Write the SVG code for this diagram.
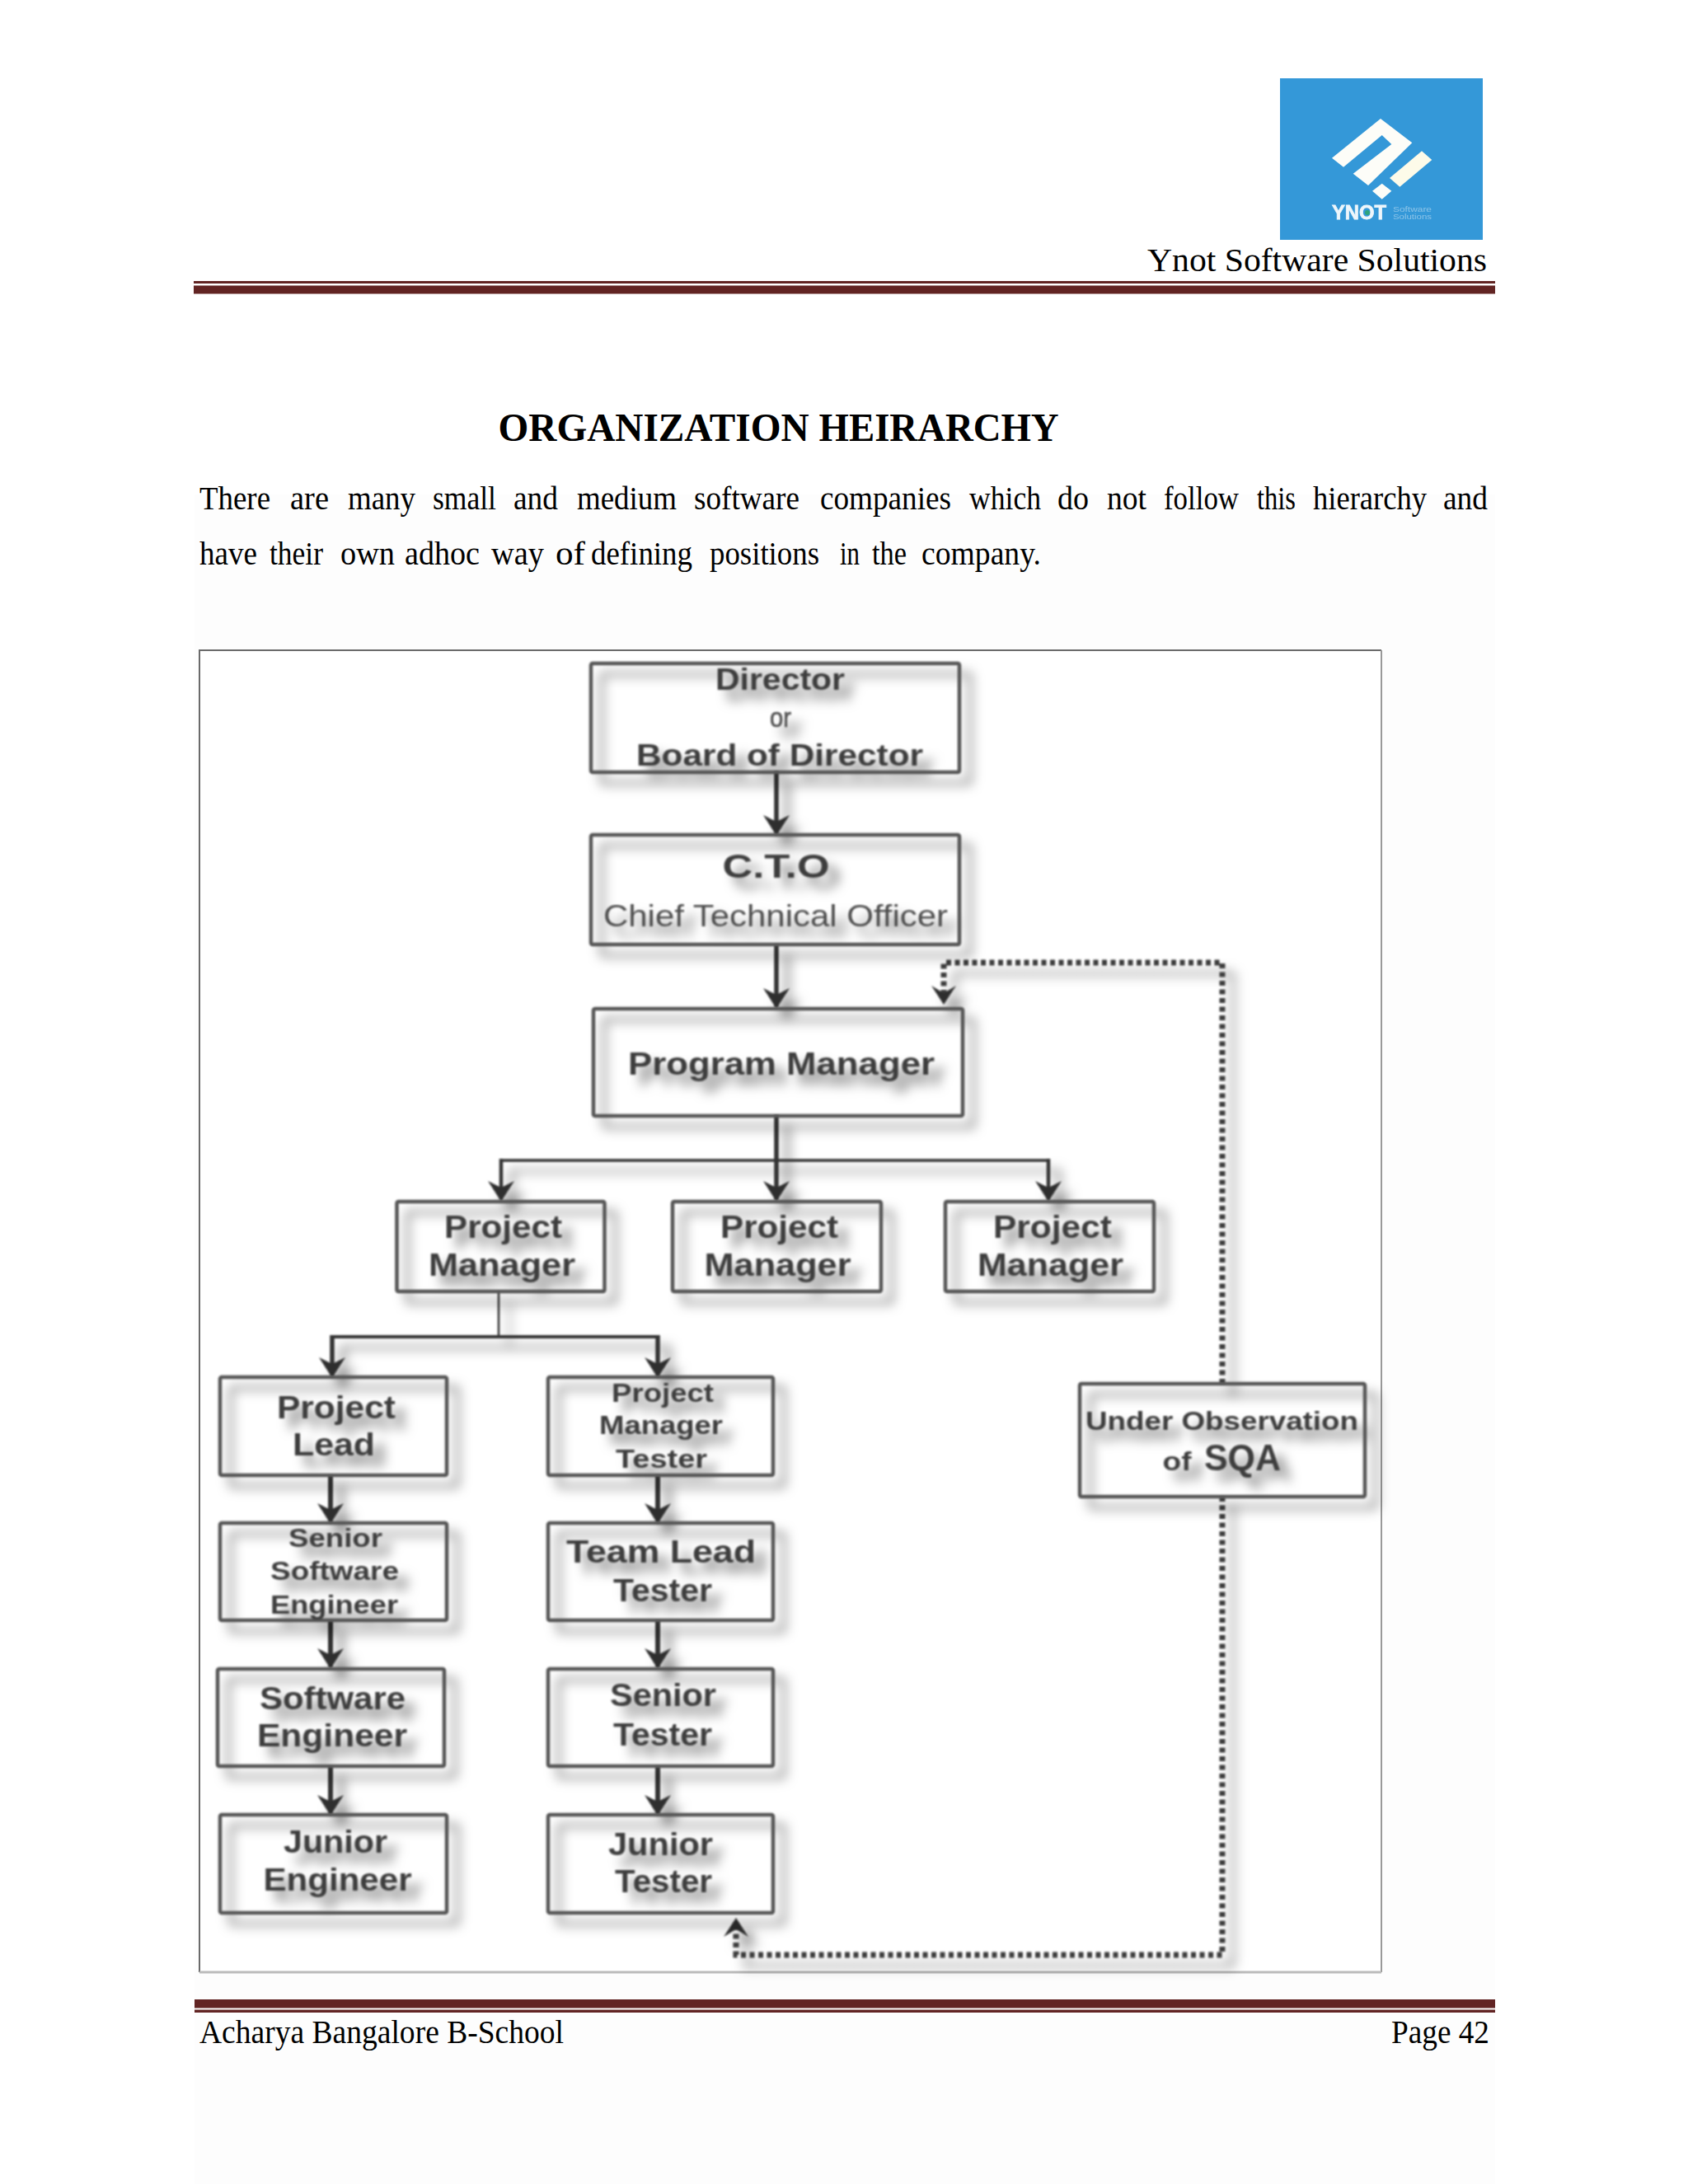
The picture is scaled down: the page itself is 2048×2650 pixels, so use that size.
<svg xmlns="http://www.w3.org/2000/svg" width="2048" height="2650" viewBox="0 0 2048 2650">
<style>
.ser{font-family:"Liberation Serif","Times New Roman",serif;fill:#000}
.t{font-family:"Liberation Sans",Arial,sans-serif;font-weight:700;fill:#3d3d3d;text-anchor:start}
.r{font-family:"Liberation Sans",Arial,sans-serif;font-weight:400;fill:#4d4d4d}
.box{fill:none;stroke:#555;stroke-width:4.5}
.n{filter:url(#sh)}
.solid{fill:none;stroke:#333;stroke-linejoin:miter}
.dot{fill:none;stroke:#3c3c3c;stroke-width:7;stroke-dasharray:6 4.5}
.rule{fill:#622423}
</style>
<defs>
<filter id="sh" filterUnits="userSpaceOnUse" x="0" y="0" width="2048" height="2650" color-interpolation-filters="sRGB">
<feGaussianBlur in="SourceGraphic" stdDeviation="1.1" result="b"/>
<feGaussianBlur in="SourceAlpha" stdDeviation="7" result="a"/>
<feOffset in="a" dx="13" dy="13" result="o"/>
<feFlood flood-color="#000" flood-opacity="0.5"/>
<feComposite in2="o" operator="in" result="s"/>
<feMerge><feMergeNode in="s"/><feMergeNode in="b"/></feMerge>
</filter>
<filter id="soft" x="-5%" y="-5%" width="110%" height="110%"><feGaussianBlur stdDeviation="0.6"/></filter>
<marker id="hd" viewBox="0 0 32 26" refX="23" refY="13" markerWidth="32" markerHeight="26" markerUnits="userSpaceOnUse" orient="auto" overflow="visible">
<path d="M25 13 L0 -3 L8 13 L0 29 Z" fill="#2e2e2e"/>
</marker>
</defs>
<rect width="2048" height="2650" fill="#fff"/>
<rect x="236" y="600" width="1578" height="2050" fill="#fdfdfd"/>

<g id="header">
<rect x="1553" y="95" width="246" height="196" fill="#3498d8"/>
<g filter="url(#soft)">
<polygon points="1616,191.7 1675,144 1713.3,173.3 1660,225 1641.7,210.7 1688.3,175 1676.7,164 1630,202.7" fill="#fdfdf8"/>
<polygon points="1725,183.3 1737.3,194 1698.3,226.7 1686,216" fill="#fdfbe9"/>
<polygon points="1676.7,222.7 1688.3,231.7 1676.7,241.7 1665,231.7" fill="#fdfdf8"/>
<text x="1616" y="266" font-size="24" textLength="66" lengthAdjust="spacingAndGlyphs" style="font-family:'Liberation Sans',Arial,sans-serif;font-weight:700;fill:#eef6fb;stroke:#eef6fb;stroke-width:.8">YNOT</text>
<circle cx="1659" cy="258" r="3" fill="#2fa37c"/>
<text x="1690" y="257" font-size="9" textLength="47" lengthAdjust="spacingAndGlyphs" style="font-family:'Liberation Sans',Arial,sans-serif;fill:#8cc4e8">Software</text>
<text x="1690" y="266" font-size="9" textLength="47" lengthAdjust="spacingAndGlyphs" style="font-family:'Liberation Sans',Arial,sans-serif;fill:#8cc4e8">Solutions</text>
</g>
<text class="ser" x="1392" y="329" font-size="41" textLength="412" lengthAdjust="spacingAndGlyphs">Ynot Software Solutions</text>
<rect class="rule" x="235" y="341" width="1579" height="3"/>
<rect class="rule" x="235" y="346.500" width="1579" height="10"/>
</g>

<g id="title-text">
<text class="ser" font-size="48" font-weight="700" y="535"><tspan x="604.600" textLength="377" lengthAdjust="spacingAndGlyphs">ORGANIZATION</tspan> <tspan x="993.600" textLength="291" lengthAdjust="spacingAndGlyphs">HEIRARCHY</tspan></text>
<text class="ser" font-size="41" y="618"><tspan x="242" textLength="86" lengthAdjust="spacingAndGlyphs">There</tspan> <tspan x="352" textLength="47" lengthAdjust="spacingAndGlyphs">are</tspan> <tspan x="422" textLength="82" lengthAdjust="spacingAndGlyphs">many</tspan> <tspan x="525" textLength="77" lengthAdjust="spacingAndGlyphs">small</tspan> <tspan x="623" textLength="54" lengthAdjust="spacingAndGlyphs">and</tspan> <tspan x="700" textLength="121" lengthAdjust="spacingAndGlyphs">medium</tspan> <tspan x="842" textLength="128" lengthAdjust="spacingAndGlyphs">software</tspan> <tspan x="995" textLength="159" lengthAdjust="spacingAndGlyphs">companies</tspan> <tspan x="1176" textLength="87" lengthAdjust="spacingAndGlyphs">which</tspan> <tspan x="1283" textLength="38" lengthAdjust="spacingAndGlyphs">do</tspan> <tspan x="1343" textLength="48" lengthAdjust="spacingAndGlyphs">not</tspan> <tspan x="1412" textLength="91" lengthAdjust="spacingAndGlyphs">follow</tspan> <tspan x="1525" textLength="47" lengthAdjust="spacingAndGlyphs">this</tspan> <tspan x="1593" textLength="138" lengthAdjust="spacingAndGlyphs">hierarchy</tspan> <tspan x="1751" textLength="54" lengthAdjust="spacingAndGlyphs">and</tspan></text>
<text class="ser" font-size="41" y="685"><tspan x="242" textLength="70" lengthAdjust="spacingAndGlyphs">have</tspan> <tspan x="327" textLength="65" lengthAdjust="spacingAndGlyphs">their</tspan> <tspan x="413" textLength="66" lengthAdjust="spacingAndGlyphs">own</tspan> <tspan x="491" textLength="91" lengthAdjust="spacingAndGlyphs">adhoc</tspan> <tspan x="596" textLength="64" lengthAdjust="spacingAndGlyphs">way</tspan> <tspan x="674" textLength="36" lengthAdjust="spacingAndGlyphs">of</tspan> <tspan x="717" textLength="123" lengthAdjust="spacingAndGlyphs">defining</tspan> <tspan x="861" textLength="133" lengthAdjust="spacingAndGlyphs">positions</tspan> <tspan x="1019" textLength="24" lengthAdjust="spacingAndGlyphs">in</tspan> <tspan x="1058" textLength="42" lengthAdjust="spacingAndGlyphs">the</tspan> <tspan x="1118" textLength="145" lengthAdjust="spacingAndGlyphs">company.</tspan></text>
</g>

<g id="frame">
<rect x="242" y="789" width="1434" height="1604" fill="#fff"/>
<path d="M242 2393V789H1676" fill="none" stroke="#6a6a6a" stroke-width="2"/>
<path d="M1676 789V2393" fill="none" stroke="#999" stroke-width="2"/>
<path d="M242 2393H1676" fill="none" stroke="#bbb" stroke-width="3"/>
</g>

<g id="connectors" filter="url(#sh)">
<path class="solid" stroke-width="5.500" d="M942 936V1012" marker-end="url(#hd)"/>
<path class="solid" stroke-width="5.500" d="M942 1146V1222" marker-end="url(#hd)"/>
<path class="solid" stroke-width="5.500" d="M942 1353V1456" marker-end="url(#hd)"/>
<path class="solid" stroke-width="3.500" d="M608 1408H1272"/>
<path class="solid" stroke-width="4.500" d="M608 1406V1456" marker-end="url(#hd)"/>
<path class="solid" stroke-width="4.500" d="M1272 1406V1456" marker-end="url(#hd)"/>
<path class="solid" stroke-width="2.500" d="M605 1567V1622"/>
<path class="solid" stroke-width="4" d="M403 1622H798"/>
<path class="solid" stroke-width="5.500" d="M403 1620V1670" marker-end="url(#hd)"/>
<path class="solid" stroke-width="5.500" d="M798 1620V1670" marker-end="url(#hd)"/>
<path class="solid" stroke-width="6" d="M401 1790V1847" marker-end="url(#hd)"/>
<path class="solid" stroke-width="6" d="M401 1966V2023" marker-end="url(#hd)"/>
<path class="solid" stroke-width="6" d="M401 2143V2201" marker-end="url(#hd)"/>
<path class="solid" stroke-width="6" d="M798 1790V1847" marker-end="url(#hd)"/>
<path class="solid" stroke-width="6" d="M798 1966V2023" marker-end="url(#hd)"/>
<path class="solid" stroke-width="6" d="M798 2143V2201" marker-end="url(#hd)"/>
<path class="dot" d="M1483 1679V1168H1145V1205"/>
<path class="dot" d="M1483 1816V2372H893V2340"/>
<path d="M1145 1219L1130 1196L1145 1205L1160 1196Z" fill="#2e2e2e"/>
<path d="M893 2327L878 2350L893 2341L908 2350Z" fill="#2e2e2e"/>
</g>

<g id="n-director" class="n"><rect class="box" x="717" y="805" width="447" height="132" rx="2"/>
<text class="t" x="868" y="837" font-size="37" textLength="157" lengthAdjust="spacingAndGlyphs">Director</text>
<text class="r" x="934" y="882" font-size="33" textLength="26" lengthAdjust="spacingAndGlyphs" style="stroke:#4d4d4d;stroke-width:.6">or</text>
<text class="t" x="772" y="929" font-size="37" textLength="348" lengthAdjust="spacingAndGlyphs">Board of Director</text></g>

<g id="n-cto" class="n"><rect class="box" x="717" y="1013" width="447" height="133" rx="2"/>
<text class="t" x="876.500" y="1065" font-size="41" textLength="130" lengthAdjust="spacingAndGlyphs">C.T.O</text>
<text class="r" x="732" y="1124" font-size="37" textLength="418" lengthAdjust="spacingAndGlyphs">Chief Technical Officer</text></g>

<g id="n-program" class="n"><rect class="box" x="720" y="1224" width="448" height="130" rx="2"/>
<text class="t" x="762" y="1304" font-size="38" textLength="372" lengthAdjust="spacingAndGlyphs">Program Manager</text></g>

<g id="n-pm1" class="n"><rect class="box" x="481.500" y="1458" width="252" height="109" rx="2"/>
<text class="t" x="539" y="1502" font-size="39" textLength="143" lengthAdjust="spacingAndGlyphs">Project</text>
<text class="t" x="520" y="1548" font-size="39" textLength="178" lengthAdjust="spacingAndGlyphs">Manager</text></g>
<g id="n-pm2" class="n"><rect class="box" x="816" y="1458" width="253" height="109" rx="2"/>
<text class="t" x="874" y="1502" font-size="39" textLength="143" lengthAdjust="spacingAndGlyphs">Project</text>
<text class="t" x="854.500" y="1548" font-size="39" textLength="178" lengthAdjust="spacingAndGlyphs">Manager</text></g>
<g id="n-pm3" class="n"><rect class="box" x="1147" y="1458" width="253" height="109" rx="2"/>
<text class="t" x="1205" y="1502" font-size="39" textLength="144" lengthAdjust="spacingAndGlyphs">Project</text>
<text class="t" x="1186" y="1548" font-size="39" textLength="177" lengthAdjust="spacingAndGlyphs">Manager</text></g>

<g id="n-lead" class="n"><rect class="box" x="267" y="1671" width="275" height="119" rx="2"/>
<text class="t" x="336" y="1721" font-size="39" textLength="144" lengthAdjust="spacingAndGlyphs">Project</text>
<text class="t" x="355" y="1766" font-size="39" textLength="100" lengthAdjust="spacingAndGlyphs">Lead</text></g>
<g id="n-pmt" class="n"><rect class="box" x="665" y="1671" width="273" height="119" rx="2"/>
<text class="t" x="742" y="1700.500" font-size="32" textLength="124" lengthAdjust="spacingAndGlyphs">Project</text>
<text class="t" x="727" y="1740" font-size="32" textLength="150" lengthAdjust="spacingAndGlyphs">Manager</text>
<text class="t" x="747" y="1781" font-size="32" textLength="111" lengthAdjust="spacingAndGlyphs">Tester</text></g>

<g id="n-sse" class="n"><rect class="box" x="267" y="1848" width="275" height="118" rx="2"/>
<text class="t" x="350" y="1877" font-size="32" textLength="114" lengthAdjust="spacingAndGlyphs">Senior</text>
<text class="t" x="328" y="1917" font-size="32" textLength="156" lengthAdjust="spacingAndGlyphs">Software</text>
<text class="t" x="328" y="1958" font-size="32" textLength="155" lengthAdjust="spacingAndGlyphs">Engineer</text></g>
<g id="n-tlt" class="n"><rect class="box" x="665" y="1848" width="273" height="118" rx="2"/>
<text class="t" x="687" y="1896" font-size="39" textLength="230" lengthAdjust="spacingAndGlyphs">Team Lead</text>
<text class="t" x="744" y="1943" font-size="39" textLength="120" lengthAdjust="spacingAndGlyphs">Tester</text></g>

<g id="n-se" class="n"><rect class="box" x="264" y="2025" width="275" height="118" rx="2"/>
<text class="t" x="315" y="2073.500" font-size="39" textLength="177" lengthAdjust="spacingAndGlyphs">Software</text>
<text class="t" x="312" y="2119" font-size="39" textLength="182" lengthAdjust="spacingAndGlyphs">Engineer</text></g>
<g id="n-st" class="n"><rect class="box" x="665" y="2025" width="273" height="118" rx="2"/>
<text class="t" x="740" y="2070" font-size="39" textLength="129" lengthAdjust="spacingAndGlyphs">Senior</text>
<text class="t" x="744" y="2118" font-size="39" textLength="120" lengthAdjust="spacingAndGlyphs">Tester</text></g>

<g id="n-je" class="n"><rect class="box" x="267" y="2202" width="275" height="119" rx="2"/>
<text class="t" x="344" y="2248" font-size="39" textLength="126" lengthAdjust="spacingAndGlyphs">Junior</text>
<text class="t" x="319.500" y="2294" font-size="39" textLength="180" lengthAdjust="spacingAndGlyphs">Engineer</text></g>
<g id="n-jt" class="n"><rect class="box" x="665" y="2202" width="273" height="119" rx="2"/>
<text class="t" x="738" y="2250.500" font-size="39" textLength="127" lengthAdjust="spacingAndGlyphs">Junior</text>
<text class="t" x="746" y="2296" font-size="39" textLength="118" lengthAdjust="spacingAndGlyphs">Tester</text></g>

<g id="n-sqa" class="n"><rect class="box" x="1310" y="1679" width="346" height="137" rx="2"/>
<text class="t" x="1317" y="1735" font-size="32" textLength="331" lengthAdjust="spacingAndGlyphs">Under Observation</text>
<text class="t" x="1410.500" y="1784" font-size="32" textLength="35" lengthAdjust="spacingAndGlyphs">of</text>
<text class="t" x="1461" y="1784" font-size="44" textLength="93" lengthAdjust="spacingAndGlyphs">SQA</text></g>

<g id="footer">
<rect class="rule" x="236" y="2426" width="1578" height="10.500"/>
<rect class="rule" x="236" y="2438.500" width="1578" height="3.500"/>
<text class="ser" x="242" y="2479" font-size="39" textLength="442" lengthAdjust="spacingAndGlyphs">Acharya Bangalore B-School</text>
<text class="ser" x="1688" y="2479" font-size="39" textLength="119" lengthAdjust="spacingAndGlyphs">Page 42</text>
</g>
</svg>
